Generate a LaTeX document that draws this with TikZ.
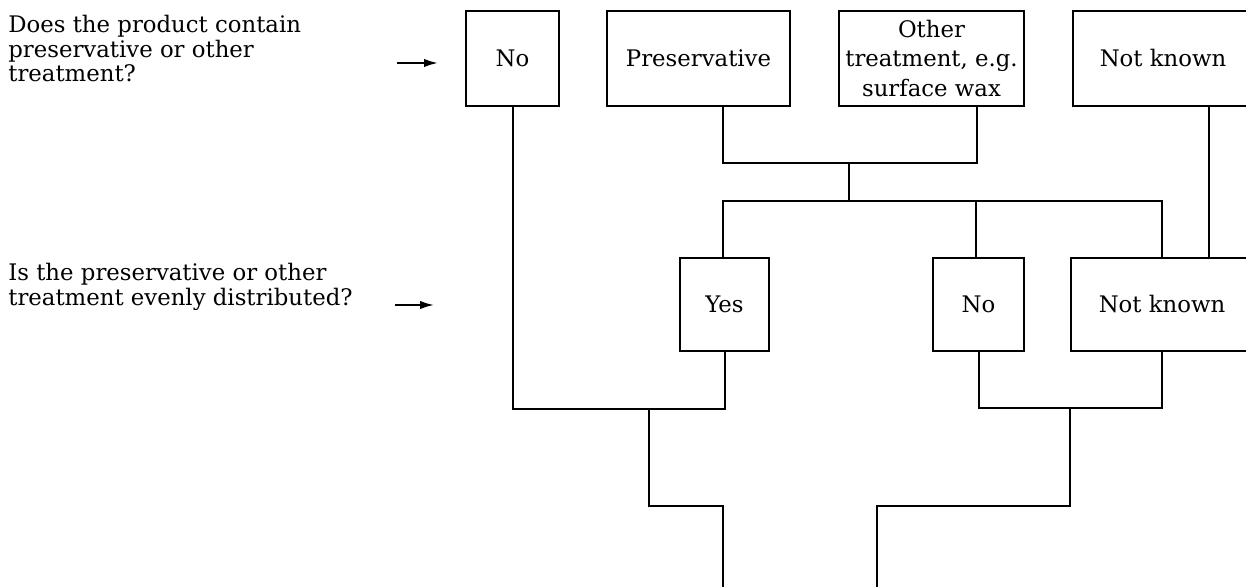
\documentclass[tikz,border=0pt]{standalone}
\usepackage{fontspec}
\setmainfont{DejaVu Serif}
\usetikzlibrary{arrows.meta}
\tikzset{
  box/.style={draw, line width=1pt, inner sep=0pt, align=center, minimum height=47.5pt,
    font=\fontsize{11.4}{14.75}\selectfont},
  midbox/.style={box, minimum height=46.5pt},
  wire/.style={line width=1pt},
  pointer/.style={line width=1pt, -{Latex[length=7pt,width=4.2pt]}},
  question/.style={anchor=north west, inner sep=0pt, align=left,
    font=\fontsize{11.4}{12.3}\selectfont}
}
\begin{document}
\begin{tikzpicture}[x=0.5pt,y=-0.5pt]
\useasboundingbox (0,0) rectangle (1246,587);
\clip (0,0) rectangle (1246,587);

% questions
\node[question] (q1) at (8,15) {Does the product contain\\preservative or other\\treatment?};
\node[question] (q2) at (8,263) {Is the preservative or other\\treatment evenly distributed?};
\coordinate (a1s) at (397,63);
\coordinate (a1e) at (438,63);
\coordinate (a2s) at (395,305);
\coordinate (a2e) at (434,305);
\draw[pointer] (a1s) -- (a1e);
\draw[pointer] (a2s) -- (a2e);

% top row
\node[box, minimum width=46.5pt] (no1) at (512.5,58.5) {No};
\node[box, minimum width=91.5pt] (pres) at (698.5,58.5) {Preservative};
\node[box, minimum width=92.5pt] (other) at (931.5,58.5) {Other\\treatment, e.g.\\surface wax};
\node[box, minimum width=90pt] (nk1) at (1163,58.5) {Not known};

% middle row
\node[midbox, minimum width=44.5pt] (yes) at (724.5,304.5) {Yes};
\node[midbox, minimum width=45.5pt] (no2) at (978.5,304.5) {No};
\node[midbox, minimum width=91pt] (nk2) at (1162,304.5) {Not known};

% junctions
\coordinate (c1) at (723,163);
\coordinate (c2) at (977,163);
\coordinate (m1) at (849,163);
\coordinate (m2) at (849,201);
\coordinate (b1) at (723,201);
\coordinate (b2) at (976,201);
\coordinate (b3) at (1162,201);
\coordinate (v) at (1209,0);

\draw[wire] (pres.south -| c1) -- (c1) -- (c2) -- (other.south -| c2);
\draw[wire] (m1) -- (m2);
\draw[wire] (yes.north -| b1) -- (b1) -- (b3) -- (nk2.north -| b3);
\draw[wire] (b2) -- (no2.north -| b2);
\draw[wire] (nk1.south -| v) -- (nk2.north -| v);

% bottom left branch
\coordinate (L1) at (649,409);
\coordinate (L2) at (649,506);
\coordinate (L3) at (723,506);
\coordinate (L4) at (723,587);
\draw[wire] (no1.south) |- (L1);
\draw[wire] (yes.south) |- (L1);
\draw[wire] (L1) -- (L2) -- (L3) -- (L4);

% bottom right branch
\coordinate (R1) at (1070,408);
\coordinate (R2) at (1070,506);
\coordinate (R3) at (877,506);
\coordinate (R4) at (877,587);
\draw[wire] (no2.south) |- (R1);
\draw[wire] (nk2.south) |- (R1);
\draw[wire] (R1) -- (R2) -- (R3) -- (R4);
\end{tikzpicture}
\end{document}
